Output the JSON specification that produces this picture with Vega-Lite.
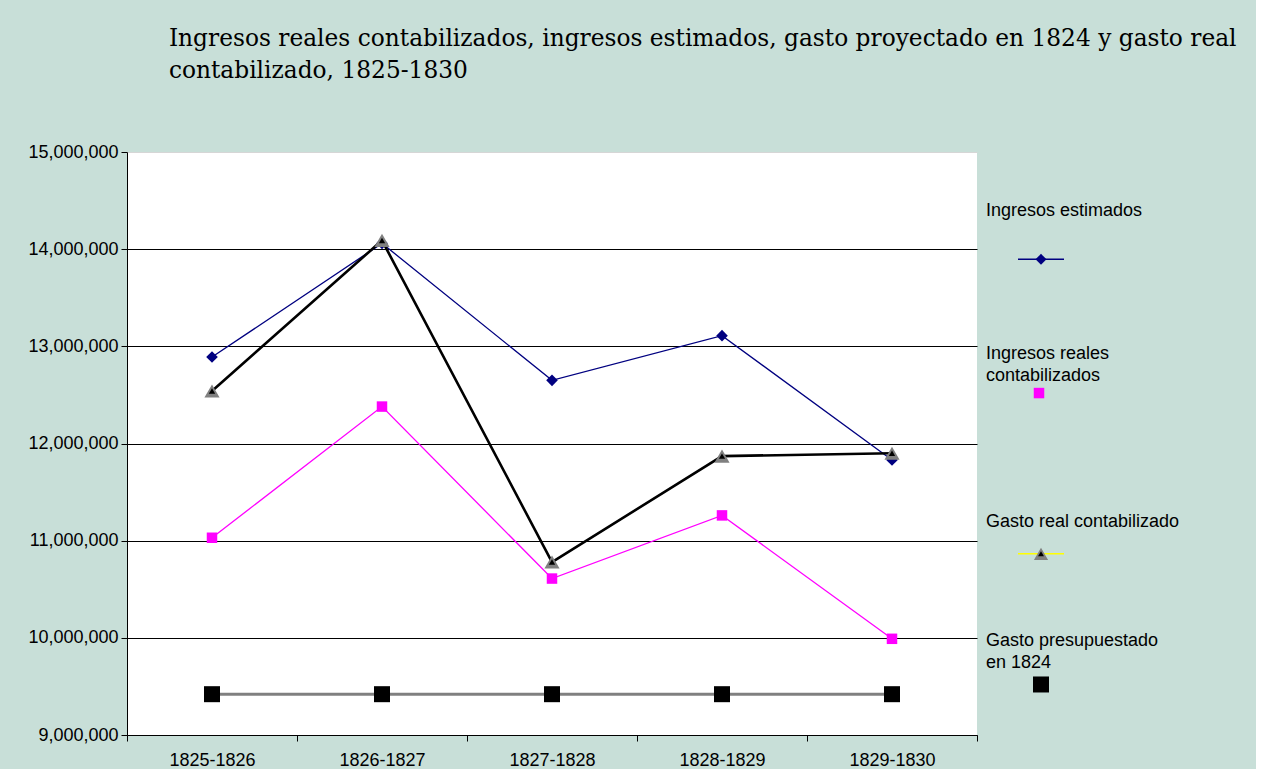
{
  "$schema": "https://vega.github.io/schema/vega-lite/v6.json",
  "background": "#c8dfd8",
  "padding": {"left": 27, "top": 26, "right": 0, "bottom": 0},
  "title": {
    "text": ["Ingresos reales contabilizados, ingresos estimados, gasto proyectado en 1824 y gasto real", "contabilizado, 1825-1830"],
    "anchor": "start",
    "font": "DejaVu Serif",
    "fontSize": 23.3,
    "fontWeight": "normal",
    "color": "#000000",
    "lineHeight": 32,
    "dx": 141,
    "offset": 60
  },
  "datasets": {
    "series": [
      {"periodo": "1825-1826", "serie": "Ingresos estimados", "valor": 12890000},
      {"periodo": "1826-1827", "serie": "Ingresos estimados", "valor": 14060000},
      {"periodo": "1827-1828", "serie": "Ingresos estimados", "valor": 12650000},
      {"periodo": "1828-1829", "serie": "Ingresos estimados", "valor": 13110000},
      {"periodo": "1829-1830", "serie": "Ingresos estimados", "valor": 11830000},
      {"periodo": "1825-1826", "serie": "Ingresos reales contabilizados", "valor": 11030000},
      {"periodo": "1826-1827", "serie": "Ingresos reales contabilizados", "valor": 12380000},
      {"periodo": "1827-1828", "serie": "Ingresos reales contabilizados", "valor": 10610000},
      {"periodo": "1828-1829", "serie": "Ingresos reales contabilizados", "valor": 11260000},
      {"periodo": "1829-1830", "serie": "Ingresos reales contabilizados", "valor": 9990000},
      {"periodo": "1825-1826", "serie": "Gasto real contabilizado", "valor": 12540000},
      {"periodo": "1826-1827", "serie": "Gasto real contabilizado", "valor": 14090000},
      {"periodo": "1827-1828", "serie": "Gasto real contabilizado", "valor": 10780000},
      {"periodo": "1828-1829", "serie": "Gasto real contabilizado", "valor": 11870000},
      {"periodo": "1829-1830", "serie": "Gasto real contabilizado", "valor": 11900000},
      {"periodo": "1825-1826", "serie": "Gasto presupuestado en 1824", "valor": 9420000},
      {"periodo": "1826-1827", "serie": "Gasto presupuestado en 1824", "valor": 9420000},
      {"periodo": "1827-1828", "serie": "Gasto presupuestado en 1824", "valor": 9420000},
      {"periodo": "1828-1829", "serie": "Gasto presupuestado en 1824", "valor": 9420000},
      {"periodo": "1829-1830", "serie": "Gasto presupuestado en 1824", "valor": 9420000}
    ],
    "leyenda": [
      {"serie": "Ingresos estimados", "etiqueta": "Ingresos estimados"},
      {"serie": "Ingresos reales contabilizados", "etiqueta": "Ingresos reales\ncontabilizados"},
      {"serie": "Gasto real contabilizado", "etiqueta": "Gasto real contabilizado"},
      {"serie": "Gasto presupuestado en 1824", "etiqueta": "Gasto presupuestado\nen 1824"}
    ]
  },
  "spacing": 8,
  "hconcat": [
    {
      "width": 850,
      "height": 583,
      "data": {"name": "series"},
      "view": {"fill": "#ffffff", "stroke": null},
      "encoding": {
        "x": {
          "field": "periodo",
          "type": "ordinal",
          "sort": null,
          "scale": {"type": "band", "paddingInner": 0, "paddingOuter": 0},
          "axis": {
            "title": null,
            "labelAngle": 0,
            "labelFont": "Liberation Sans",
            "labelFontSize": 18,
            "labelColor": "#000000",
            "labelPadding": 10,
            "tickSize": 6,
            "tickColor": "#000000",
            "domainColor": "#000000",
            "tickBand": "extent",
            "grid": false
          }
        },
        "y": {
          "field": "valor",
          "type": "quantitative",
          "scale": {"domain": [9000000, 15000000], "nice": false, "zero": false},
          "axis": {
            "title": null,
            "values": [9000000, 10000000, 11000000, 12000000, 13000000, 14000000, 15000000],
            "format": ",d",
            "labelFont": "Liberation Sans",
            "labelFontSize": 18,
            "labelColor": "#000000",
            "labelPadding": 3,
            "tickSize": 6,
            "tickColor": "#000000",
            "domainColor": "#000000",
            "grid": true,
            "gridColor": {"condition": {"test": "datum.value === 15000000", "value": "#d6d6d6"}, "value": "#000000"},
            "gridOpacity": 1,
            "gridWidth": 1
          }
        }
      },
      "layer": [
        {
          "transform": [{"filter": "datum.serie === 'Gasto presupuestado en 1824'"}],
          "mark": {"type": "line", "color": "#808080", "strokeWidth": 3}
        },
        {
          "transform": [{"filter": "datum.serie === 'Gasto presupuestado en 1824'"}],
          "mark": {"type": "point", "shape": "square", "filled": true, "color": "#000000", "opacity": 1, "size": 256}
        },
        {
          "transform": [{"filter": "datum.serie === 'Ingresos reales contabilizados'"}],
          "mark": {"type": "line", "color": "#ff00ff", "strokeWidth": 1.3}
        },
        {
          "transform": [{"filter": "datum.serie === 'Ingresos reales contabilizados'"}],
          "mark": {"type": "point", "shape": "square", "filled": true, "color": "#ff00ff", "opacity": 1, "size": 110}
        },
        {
          "transform": [{"filter": "datum.serie === 'Ingresos estimados'"}],
          "mark": {"type": "line", "color": "#000080", "strokeWidth": 1.3}
        },
        {
          "transform": [{"filter": "datum.serie === 'Ingresos estimados'"}],
          "mark": {"type": "point", "shape": "diamond", "filled": true, "color": "#000080", "opacity": 1, "size": 135}
        },
        {
          "transform": [{"filter": "datum.serie === 'Gasto real contabilizado'"}],
          "mark": {"type": "line", "color": "#000000", "strokeWidth": 2.6}
        },
        {
          "transform": [{"filter": "datum.serie === 'Gasto real contabilizado'"}],
          "mark": {"type": "point", "shape": "triangle-up", "filled": true, "color": "#808080", "opacity": 1, "size": 230}
        },
        {
          "transform": [{"filter": "datum.serie === 'Gasto real contabilizado'"}],
          "mark": {"type": "point", "shape": "triangle-up", "filled": true, "color": "#000000", "opacity": 1, "size": 40}
        }
      ]
    },
    {
      "width": 270,
      "height": 583,
      "data": {"name": "leyenda"},
      "view": {"stroke": null},
      "encoding": {
        "y": {
          "field": "serie",
          "type": "nominal",
          "sort": null,
          "scale": {"type": "point", "padding": 0.557, "align": 0.68},
          "axis": null
        }
      },
      "layer": [
        {
          "transform": [{"filter": "datum.serie === 'Ingresos estimados'"}],
          "mark": {"type": "text", "align": "left", "baseline": "top", "dy": -57, "font": "Liberation Sans", "fontSize": 18, "lineBreak": "\n", "lineHeight": 22, "color": "#000000"},
          "encoding": {"x": {"value": 0}, "text": {"field": "etiqueta"}}
        },
        {
          "transform": [{"filter": "datum.serie === 'Ingresos reales contabilizados'"}],
          "mark": {"type": "text", "align": "left", "baseline": "top", "dy": -56, "font": "Liberation Sans", "fontSize": 18, "lineBreak": "\n", "lineHeight": 22, "color": "#000000"},
          "encoding": {"x": {"value": 0}, "text": {"field": "etiqueta"}}
        },
        {
          "transform": [{"filter": "datum.serie === 'Gasto real contabilizado'"}],
          "mark": {"type": "text", "align": "left", "baseline": "top", "dy": -30, "font": "Liberation Sans", "fontSize": 18, "lineBreak": "\n", "lineHeight": 22, "color": "#000000"},
          "encoding": {"x": {"value": 0}, "text": {"field": "etiqueta"}}
        },
        {
          "transform": [{"filter": "datum.serie === 'Gasto presupuestado en 1824'"}],
          "mark": {"type": "text", "align": "left", "baseline": "top", "dy": -52, "font": "Liberation Sans", "fontSize": 18, "lineBreak": "\n", "lineHeight": 22, "color": "#000000"},
          "encoding": {"x": {"value": 0}, "text": {"field": "etiqueta"}}
        },
        {
          "transform": [{"filter": "datum.serie === 'Ingresos estimados'"}],
          "mark": {"type": "point", "shape": "M-1,0L1,0", "filled": false, "stroke": "#000080", "strokeWidth": 1.5, "opacity": 1, "size": 2116},
          "encoding": {"x": {"value": 55}}
        },
        {
          "transform": [{"filter": "datum.serie === 'Ingresos estimados'"}],
          "mark": {"type": "point", "shape": "diamond", "filled": true, "color": "#000080", "opacity": 1, "size": 120},
          "encoding": {"x": {"value": 55}}
        },
        {
          "transform": [{"filter": "datum.serie === 'Ingresos reales contabilizados'"}],
          "mark": {"type": "point", "shape": "square", "filled": true, "color": "#ff00ff", "opacity": 1, "size": 110, "yOffset": -8},
          "encoding": {"x": {"value": 53}}
        },
        {
          "transform": [{"filter": "datum.serie === 'Gasto real contabilizado'"}],
          "mark": {"type": "point", "shape": "M-1,0L1,0", "filled": false, "stroke": "#ffff00", "strokeWidth": 1.5, "opacity": 1, "size": 2116, "yOffset": 11},
          "encoding": {"x": {"value": 55}}
        },
        {
          "transform": [{"filter": "datum.serie === 'Gasto real contabilizado'"}],
          "mark": {"type": "point", "shape": "triangle-up", "filled": true, "color": "#808080", "opacity": 1, "size": 200, "yOffset": 11},
          "encoding": {"x": {"value": 55}}
        },
        {
          "transform": [{"filter": "datum.serie === 'Gasto real contabilizado'"}],
          "mark": {"type": "point", "shape": "triangle-up", "filled": true, "color": "#000000", "opacity": 1, "size": 35, "yOffset": 11},
          "encoding": {"x": {"value": 55}}
        },
        {
          "transform": [{"filter": "datum.serie === 'Gasto presupuestado en 1824'"}],
          "mark": {"type": "point", "shape": "square", "filled": true, "color": "#000000", "opacity": 1, "size": 256},
          "encoding": {"x": {"value": 55}}
        }
      ]
    }
  ],
  "config": {"view": {"stroke": null}, "font": "Liberation Sans"}
}
